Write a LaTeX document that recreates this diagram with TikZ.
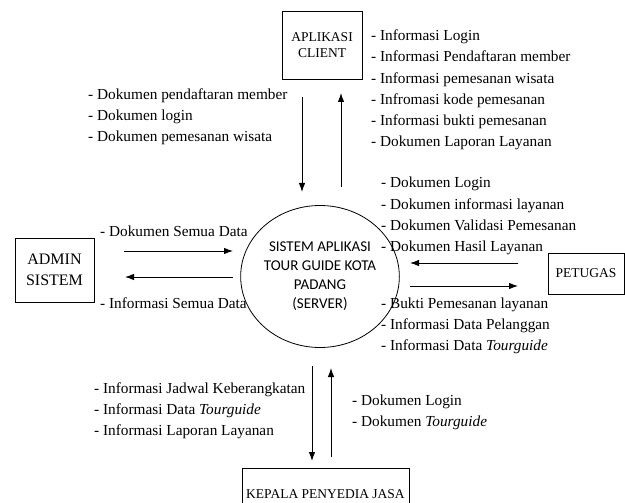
\documentclass[tikz,border=0pt]{standalone}
\usepackage{fontspec}
\setmainfont{Liberation Serif}
\newfontfamily\carlito{Carlito}
\usetikzlibrary{arrows.meta,shapes.geometric}

\begin{document}
\begin{tikzpicture}[x=1bp,y=-1bp,
  flow/.style={line width=0.9bp,-{Latex[length=9bp,width=6.5bp]}},
  entity/.style={draw,line width=0.8bp,inner sep=0,align=center,
    font=\fontsize{13.5bp}{16bp}\selectfont},
  lbl/.style={anchor=west,align=left,inner sep=0,
    font=\fontsize{15.3bp}{21.2bp}\selectfont},
  process/.style={draw,ellipse,line width=0.8bp,inner sep=0,align=center,
    font=\carlito\fontsize{15bp}{19bp}\selectfont}
]
\useasboundingbox (0,0) rectangle (625,503);
\clip (0,0) rectangle (625,503);

% external entities and the central process
\node[entity,minimum width=80bp,minimum height=68bp] (client) at (322,45) {APLIKASI\\CLIENT};
\node[entity,minimum width=79bp,minimum height=64bp,
  font=\fontsize{16bp}{21bp}\selectfont] (admin) at (54.5,270) {ADMIN\\SISTEM};
\node[entity,minimum width=76bp,minimum height=41bp] (petugas) at (586,273.5) {PETUGAS};
\node[entity,minimum width=167bp,minimum height=52bp] (kepala) at (325.5,494) {KEPALA PENYEDIA JASA};
\node[process,minimum width=120bp,minimum height=142bp] (server) at (320,276.5)
  {SISTEM APLIKASI\\TOUR GUIDE KOTA\\PADANG\\(SERVER)};

% data flow labels
\node[lbl] (lclient) at (88,117) {- Dokumen pendaftaran member\\- Dokumen login\\- Dokumen pemesanan wisata};
\node[lbl] (rclient) at (371,90) {- Informasi Login\\- Informasi Pendaftaran member\\- Informasi pemesanan wisata\\- Infromasi kode pemesanan\\- Informasi bukti pemesanan\\- Dokumen Laporan Layanan};
\node[lbl] (inpetugas) at (381,216) {- Dokumen Login\\- Dokumen informasi layanan\\- Dokumen Validasi Pemesanan\\- Dokumen Hasil Layanan};
\node[lbl] (outpetugas) at (381,326) {- Bukti Pemesanan layanan\\- Informasi Data Pelanggan\\- Informasi Data \textit{Tourguide}};
\node[lbl] (inadmin) at (100,231) {- Dokumen Semua Data};
\node[lbl] (outadmin) at (100,303) {- Informasi Semua Data};
\node[lbl] (outkepala) at (94,410.5) {- Informasi Jadwal Keberangkatan\\- Informasi Data \textit{Tourguide}\\- Informasi Laporan Layanan};
\node[lbl] (inkepala) at (352,412.5) {- Dokumen Login\\- Dokumen \textit{Tourguide}};

% arrow end points
\coordinate (c1a) at (302,97);  \coordinate (c1b) at (302,192);
\coordinate (c2a) at (341,187); \coordinate (c2b) at (341,93);
\coordinate (a1a) at (124,251); \coordinate (a1b) at (233,251);
\coordinate (a2a) at (233,277); \coordinate (a2b) at (125,277);
\coordinate (p1a) at (518,263); \coordinate (p1b) at (410,263);
\coordinate (p2a) at (410,286); \coordinate (p2b) at (518,286);
\coordinate (k1a) at (312,366); \coordinate (k1b) at (312,461);
\coordinate (k2a) at (331,457); \coordinate (k2b) at (331,368);

% data flows
\draw[flow] (c1a) -- (c1b);
\draw[flow] (c2a) -- (c2b);
\draw[flow] (a1a) -- (a1b);
\draw[flow] (a2a) -- (a2b);
\draw[flow] (p1a) -- (p1b);
\draw[flow] (p2a) -- (p2b);
\draw[flow] (k1a) -- (k1b);
\draw[flow] (k2a) -- (k2b);
\end{tikzpicture}
\end{document}
